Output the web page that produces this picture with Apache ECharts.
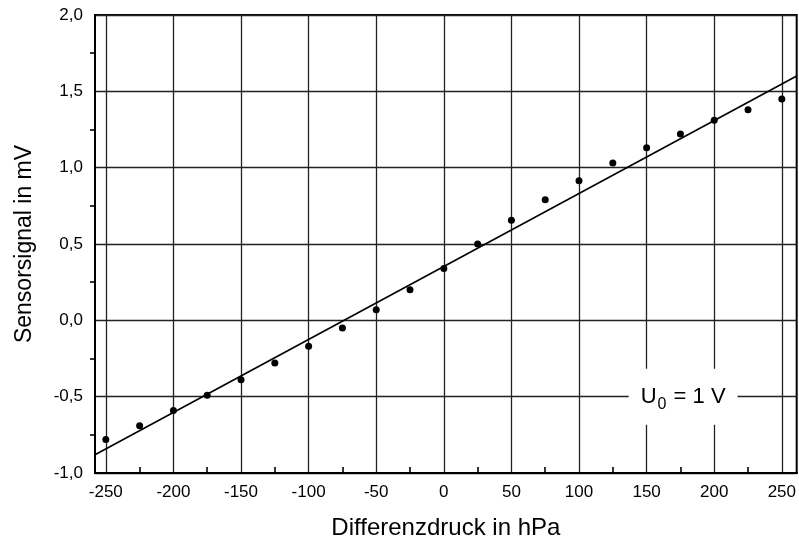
<!DOCTYPE html>
<html>
<head>
<meta charset="utf-8">
<script src="https://cdn.jsdelivr.net/npm/echarts@6/dist/echarts.min.js"></script>
<style>
  html, body { margin: 0; padding: 0; background: #fff; }
  #main { width: 799px; height: 545px; }
</style>
</head>
<body>
<div id="main"></div>
<script>
  // Messwerte
  var pressure = [-250, -225, -200, -175, -150, -125, -100, -75, -50, -25, 0,
                  25, 50, 75, 100, 125, 150, 175, 200, 225, 250];
  var signal = [-0.78, -0.69, -0.59, -0.49, -0.39, -0.28, -0.17, -0.05, 0.07, 0.20, 0.34,
                0.50, 0.655, 0.79, 0.915, 1.03, 1.13, 1.22, 1.31, 1.38, 1.45];
  // Ausgleichsgerade (Endpunkte)
  var fitX = [-258, 261];
  var fitY = [-0.88, 1.60];
  // Achsenteilung
  var majorTicks = [-250, -200, -150, -100, -50, 0, 50, 100, 150, 200, 250];
  var minorTicks = [-225, -175, -125, -75, -25, 25, 75, 125, 175, 225];
  var labelPos = [177, -0.5];

  var font = 'Liberation Sans, Arial, Helvetica, sans-serif';
  var chart = echarts.init(document.getElementById('main'));

  var option = {
    animation: false,
    backgroundColor: '#fff',
    grid: {
      left: 95, top: 15, right: -3, bottom: 72,
      show: true, borderColor: '#000', borderWidth: 2
    },
    xAxis: [{
      type: 'value', min: -258, max: 261,
      name: 'Differenzdruck in hPa', nameLocation: 'middle', nameGap: 43,
      nameTextStyle: { fontFamily: font, fontSize: 24, color: '#000' },
      axisLine: { show: true, onZero: false, lineStyle: { color: '#000', width: 2 } },
      axisTick: { show: false, customValues: majorTicks },
      axisLabel: { customValues: majorTicks, margin: 11, fontFamily: font, fontSize: 17, color: '#000' },
      splitLine: { show: true, lineStyle: { color: '#222', width: 1.3 } }
    }, {
      type: 'value', min: -258, max: 261, position: 'bottom',
      axisLine: { show: true, onZero: false, lineStyle: { color: '#000', width: 2 } },
      axisTick: { show: true, inside: true, length: 6, customValues: minorTicks, lineStyle: { color: '#000', width: 1.6 } },
      axisLabel: { show: false },
      splitLine: { show: false }
    }],
    yAxis: {
      type: 'value', min: -1, max: 2, interval: 0.5,
      name: 'Sensorsignal in mV', nameLocation: 'middle', nameGap: 59,
      nameTextStyle: { fontFamily: font, fontSize: 23, color: '#000' },
      axisLine: { show: true, onZero: false, lineStyle: { color: '#000', width: 2 } },
      axisTick: { show: false },
      minorTick: { show: true, splitNumber: 2, length: 5, lineStyle: { color: '#000', width: 1.6 } },
      axisLabel: {
        margin: 12, fontFamily: font, fontSize: 17, color: '#000',
        formatter: function (v) { return v.toFixed(1).replace('.', ','); }
      },
      splitLine: { show: true, lineStyle: { color: '#222', width: 1.3 } }
    },
    series: [{
      type: 'line',
      data: fitX.map(function (x, i) { return [x, fitY[i]]; }),
      symbol: 'none',
      lineStyle: { color: '#000', width: 1.6 },
      z: 3
    }, {
      type: 'scatter',
      data: pressure.map(function (x, i) { return [x, signal[i]]; }),
      symbol: 'circle', symbolSize: 7,
      itemStyle: { color: '#000', opacity: 1 },
      z: 4
    }, {
      type: 'scatter',
      data: [labelPos],
      symbolSize: 0,
      itemStyle: { opacity: 1 },
      z: 5,
      label: {
        show: true, position: 'inside',
        backgroundColor: '#fff',
        padding: [12, 12, 12, 12],
        formatter: '{a|U}{b|0}{a| = 1 V}',
        rich: {
          a: { fontFamily: font, fontSize: 22, color: '#000' },
          b: { fontFamily: font, fontSize: 16, color: '#000', padding: [16, 1, 0, 1] }
        }
      }
    }]
  };
  chart.setOption(option);
</script>
</body>
</html>
